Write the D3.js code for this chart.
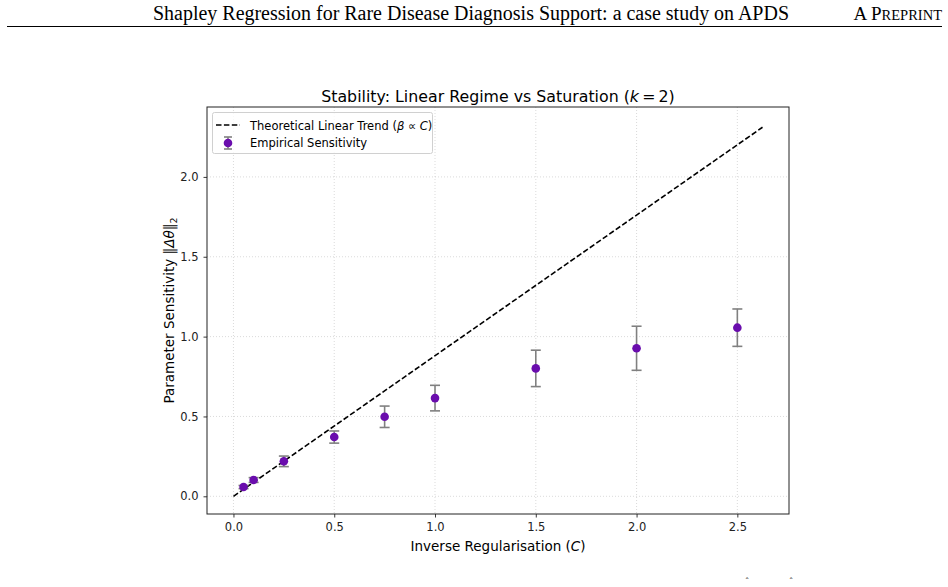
<!DOCTYPE html>
<html><head><meta charset="utf-8">
<script src="https://cdn.jsdelivr.net/npm/d3@7"></script>
<style>body{margin:0;background:#fff}svg{display:block}</style>
</head><body>
<script>
const inverseC = [0.05, 0.1, 0.25, 0.5, 0.75, 1.0, 1.5, 2.0, 2.5];
const sensitivity = [0.058, 0.102, 0.219, 0.371, 0.498, 0.615, 0.801, 0.927, 1.056];
const sensitivityErr = [0.010, 0.015, 0.033, 0.038, 0.067, 0.080, 0.114, 0.138, 0.117];
const trendC = [0, 2.625];
const trendValues = [0, 2.311];
const xTicks = [0.0, 0.5, 1.0, 1.5, 2.0, 2.5];
const yTicks = [0.0, 0.5, 1.0, 1.5, 2.0];

const W = 948, H = 587;
const svg = d3.select("body").append("svg").attr("width", W).attr("height", H);
const font = "'DejaVu Sans', sans-serif";

// page header
svg.append("text").attr("x", 153).attr("y", 20).attr("font-family", "'Liberation Serif', serif")
  .attr("font-size", 20).attr("textLength", 636).attr("lengthAdjust", "spacingAndGlyphs").attr("fill", "#000")
  .text("Shapley Regression for Rare Disease Diagnosis Support: a case study on APDS");
const pp = svg.append("text").attr("x", 942).attr("y", 20).attr("text-anchor", "end")
  .attr("font-family", "'Liberation Serif', serif").attr("fill", "#000");
pp.append("tspan").attr("font-size", 19).text("A P");
pp.append("tspan").attr("font-size", 14.5).text("REPRINT");
svg.append("line").attr("x1", 7).attr("x2", 942).attr("y1", 26.5).attr("y2", 26.5)
  .attr("stroke", "#000").attr("stroke-width", 1);

// axes region
const L = 207, R = 789, T = 107, B = 514;
const x = d3.scaleLinear().domain([-0.1313, 2.7563]).range([L, R]);
const y = d3.scaleLinear().domain([-0.1108, 2.4378]).range([B, T]);

const g = svg.append("g");
// grid
g.append("g").selectAll("line").data(xTicks).join("line")
  .attr("x1", d => x(d)).attr("x2", d => x(d)).attr("y1", T).attr("y2", B)
  .attr("stroke", "#b0b0b0").attr("stroke-opacity", 0.6).attr("stroke-width", 0.8).attr("stroke-dasharray", "1,2");
g.append("g").selectAll("line").data(yTicks).join("line")
  .attr("y1", d => y(d)).attr("y2", d => y(d)).attr("x1", L).attr("x2", R)
  .attr("stroke", "#b0b0b0").attr("stroke-opacity", 0.6).attr("stroke-width", 0.8).attr("stroke-dasharray", "1,2");

// axes
const xAxis = d3.axisBottom(x).tickValues(xTicks).tickFormat(d3.format(".1f")).tickSize(3.5).tickPadding(5);
const yAxis = d3.axisLeft(y).tickValues(yTicks).tickFormat(d3.format(".1f")).tickSize(3.5).tickPadding(5);
const gx = svg.append("g").attr("transform", `translate(0,${B})`).call(xAxis);
const gy = svg.append("g").attr("transform", `translate(${L},0)`).call(yAxis);
[gx, gy].forEach(a => {
  a.select(".domain").remove();
  a.selectAll("text").attr("font-family", font).attr("font-size", 11.5).attr("fill", "#222");
  a.selectAll("line").attr("stroke", "#222").attr("stroke-width", 0.9);
});
svg.append("rect").attr("x", L).attr("y", T).attr("width", R - L).attr("height", B - T)
  .attr("fill", "none").attr("stroke", "#222").attr("stroke-width", 1);

// trend line
const line = d3.line().x((d, i) => x(trendC[i])).y(d => y(d));
svg.append("path").datum(trendValues).attr("d", line).attr("fill", "none")
  .attr("stroke", "#000").attr("stroke-width", 1.6).attr("stroke-dasharray", "5.5,2.4");

// error bars
const eb = svg.append("g").attr("stroke", "#808080").attr("stroke-width", 1.6);
inverseC.forEach((c, i) => {
  const lo = y(sensitivity[i] - sensitivityErr[i]), hi = y(sensitivity[i] + sensitivityErr[i]);
  eb.append("line").attr("x1", x(c)).attr("x2", x(c)).attr("y1", lo).attr("y2", hi);
  eb.append("line").attr("x1", x(c) - 5).attr("x2", x(c) + 5).attr("y1", lo).attr("y2", lo);
  eb.append("line").attr("x1", x(c) - 5).attr("x2", x(c) + 5).attr("y1", hi).attr("y2", hi);
});
svg.append("g").selectAll("circle").data(inverseC).join("circle")
  .attr("cx", d => x(d)).attr("cy", (d, i) => y(sensitivity[i])).attr("r", 4.3)
  .attr("fill", "#6a0dad");

// title
const t = svg.append("text").attr("x", (L + R) / 2).attr("y", 102).attr("text-anchor", "middle")
  .attr("font-family", font).attr("font-size", 15.8).attr("fill", "#000");
t.append("tspan").text("Stability: Linear Regime vs Saturation (");
t.append("tspan").attr("font-style", "italic").text("k");
t.append("tspan").text("\u2009=\u20092)");

// axis labels
const xl = svg.append("text").attr("x", (L + R) / 2).attr("y", 551).attr("text-anchor", "middle")
  .attr("font-family", font).attr("font-size", 13.5).attr("fill", "#000");
xl.append("tspan").text("Inverse Regularisation (");
xl.append("tspan").attr("font-style", "italic").text("C");
xl.append("tspan").text(")");
const yl = svg.append("text").attr("transform", `translate(174,${(T + B) / 2}) rotate(-90)`)
  .attr("text-anchor", "middle").attr("font-family", font).attr("font-size", 13.5).attr("fill", "#000");
yl.append("tspan").text("Parameter Sensitivity \u2016");
yl.append("tspan").attr("font-style", "italic").text("\u0394\u03b8");
yl.append("tspan").text("\u2016");
yl.append("tspan").attr("font-size", 9.5).attr("dy", 3).text("2");

// legend
const lg = svg.append("g");
lg.append("rect").attr("x", 212.5).attr("y", 112.5).attr("width", 220).attr("height", 41).attr("rx", 2)
  .attr("fill", "#fff").attr("fill-opacity", 0.8).attr("stroke", "#d0d0d0").attr("stroke-width", 1);
lg.append("line").attr("x1", 216).attr("x2", 240).attr("y1", 125).attr("y2", 125)
  .attr("stroke", "#000").attr("stroke-width", 1.6).attr("stroke-dasharray", "5.5,2.4");
const lt1 = lg.append("text").attr("x", 250).attr("y", 129.5).attr("font-family", font).attr("font-size", 11.5).attr("fill", "#000");
lt1.append("tspan").text("Theoretical Linear Trend (");
lt1.append("tspan").attr("font-style", "italic").text("\u03b2");
lt1.append("tspan").text(" \u221d ");
lt1.append("tspan").attr("font-style", "italic").text("C");
lt1.append("tspan").text(")");
const lx = 228, ly = 143;
lg.append("line").attr("x1", lx).attr("x2", lx).attr("y1", ly - 6).attr("y2", ly + 6).attr("stroke", "#808080").attr("stroke-width", 1.6);
lg.append("line").attr("x1", lx - 4).attr("x2", lx + 4).attr("y1", ly - 6).attr("y2", ly - 6).attr("stroke", "#808080").attr("stroke-width", 1.6);
lg.append("line").attr("x1", lx - 4).attr("x2", lx + 4).attr("y1", ly + 6).attr("y2", ly + 6).attr("stroke", "#808080").attr("stroke-width", 1.6);
lg.append("circle").attr("cx", lx).attr("cy", ly).attr("r", 4.3).attr("fill", "#6a0dad");
lg.append("text").attr("x", 250).attr("y", 147).attr("font-family", font).attr("font-size", 11.5).attr("fill", "#000")
  .text("Empirical Sensitivity");

// cut-off text at page bottom
svg.append("text").attr("x", 747).attr("y", 584).attr("text-anchor", "middle").attr("font-family", "'Liberation Serif', serif").attr("font-size", 8).text("\u02c6");
svg.append("text").attr("x", 791).attr("y", 584).attr("text-anchor", "middle").attr("font-family", "'Liberation Serif', serif").attr("font-size", 8).text("\u02c6");
</script>
</body></html>
